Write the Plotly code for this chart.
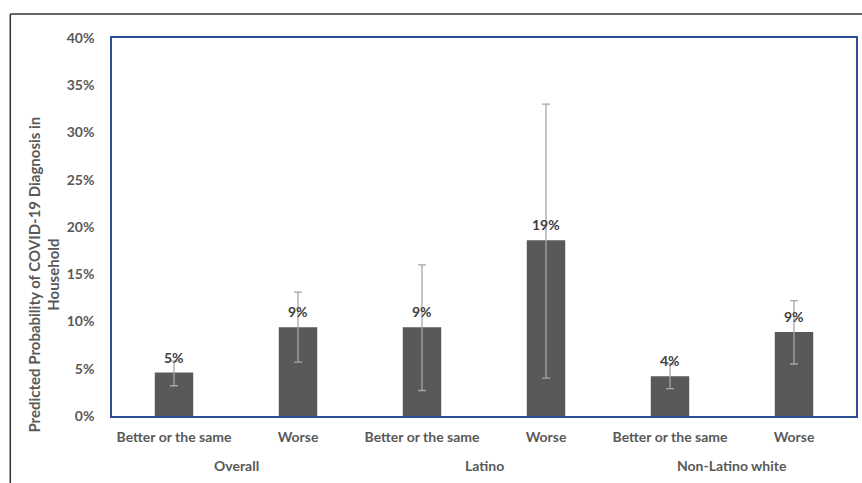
import plotly.graph_objects as go

# Predicted probability of a COVID-19 diagnosis in the household,
# by change in financial situation, overall and by ethnicity
groups = ["Overall", "Latino", "Non-Latino white"]
conditions = ["Better or the same", "Worse"]
probability = [0.046, 0.094, 0.094, 0.186, 0.042, 0.089]
ci_low = [0.032, 0.057, 0.027, 0.040, 0.029, 0.055]
ci_high = [0.058, 0.131, 0.160, 0.330, 0.055, 0.122]
y_ticks = [0, 0.05, 0.10, 0.15, 0.20, 0.25, 0.30, 0.35, 0.40]

n_cond = len(conditions)
positions = list(range(len(groups) * n_cond))
sub_labels = [conditions[i % n_cond] for i in positions]
err_plus = [h - v for h, v in zip(ci_high, probability)]
err_minus = [v - l for l, v in zip(ci_low, probability)]

FONT = "Lato"
AXIS_GRAY = "#595959"
FRAME_BLUE = "#2F4E98"

fig = go.Figure(
    go.Bar(
        x=positions,
        y=probability,
        width=0.31,
        marker=dict(color="#595959", line=dict(width=0)),
        error_y=dict(
            type="data",
            array=err_plus,
            arrayminus=err_minus,
            color="#A6A6A6",
            thickness=1.3,
            width=4,
        ),
        hoverinfo="skip",
    )
)

# value labels just above each bar
for xpos, val in zip(positions, probability):
    fig.add_annotation(
        x=xpos, y=val, xref="x", yref="y",
        xanchor="center", yanchor="bottom", yshift=5,
        text=f"{val:.0%}", showarrow=False,
        font=dict(family=FONT, size=14, color="#404040", weight="bold"),
    )

# group labels centred under each pair of bars
for g, name in enumerate(groups):
    centre = sum(positions[g * n_cond:(g + 1) * n_cond]) / n_cond
    fig.add_annotation(
        x=centre, xref="x", y=-0.132, yref="paper",
        xanchor="center", yanchor="middle",
        text=name, showarrow=False,
        font=dict(family=FONT, size=14, color=AXIS_GRAY, weight="bold"),
    )

# y-axis title
fig.add_annotation(
    x=-0.092, xref="paper", y=0.373, yref="paper",
    xanchor="center", yanchor="middle",
    text="Predicted Probability of COVID-19 Diagnosis in<br>Household",
    textangle=-90, showarrow=False,
    font=dict(family=FONT, size=15, color=AXIS_GRAY, weight="bold"),
)

# outer chart border (left and top edges)
fig.add_shape(type="line", xref="paper", yref="paper",
              x0=-0.1367, x1=-0.1367, y0=-0.2, y1=1.0635,
              line=dict(color="#333333", width=1.5))
fig.add_shape(type="line", xref="paper", yref="paper",
              x0=-0.1367, x1=1.01, y0=1.0635, y1=1.0635,
              line=dict(color="#333333", width=1.5))

fig.update_layout(
    width=862,
    height=483,
    margin=dict(l=112, r=4, t=38, b=67),
    paper_bgcolor="white",
    plot_bgcolor="white",
    showlegend=False,
    font=dict(family=FONT, color=AXIS_GRAY),
    xaxis=dict(
        range=[-0.5, len(positions) - 0.5],
        tickmode="array",
        tickvals=positions,
        ticktext=sub_labels,
        tickfont=dict(family=FONT, size=14, color=AXIS_GRAY, weight="bold"),
        ticks="",
        ticklabelstandoff=7,
        showgrid=False,
        zeroline=False,
        showline=True,
        linecolor=FRAME_BLUE,
        linewidth=1.5,
        mirror=True,
    ),
    yaxis=dict(
        range=[0, 0.40],
        tickmode="array",
        tickvals=y_ticks,
        tickformat=".0%",
        tickfont=dict(family=FONT, size=14, color=AXIS_GRAY, weight="bold"),
        ticks="",
        ticklabelstandoff=13,
        showgrid=False,
        zeroline=False,
        showline=True,
        linecolor=FRAME_BLUE,
        linewidth=1.5,
        mirror=True,
    ),
)

fig.write_html("out.html")
